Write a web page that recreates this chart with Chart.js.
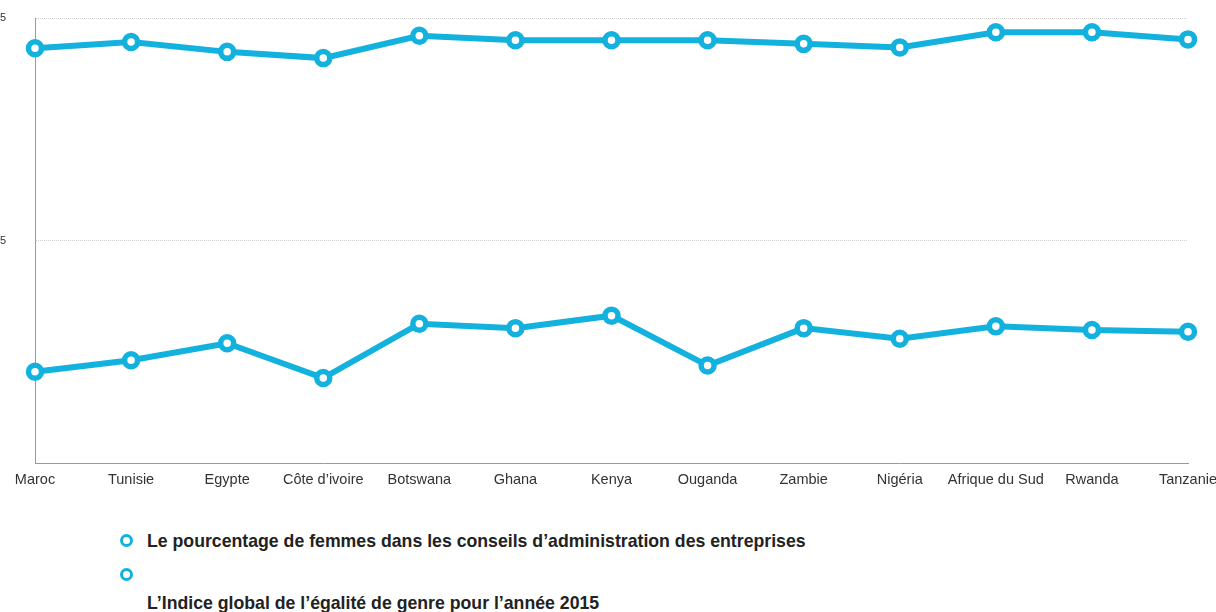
<!DOCTYPE html>
<html lang="fr">
<head>
<meta charset="utf-8">
<script src="https://cdn.jsdelivr.net/npm/chart.js@4/dist/chart.umd.min.js"></script>
<style>
  html, body { margin: 0; padding: 0; background: #fff; overflow: hidden; }
  body { width: 1216px; height: 612px; position: relative; font-family: "Liberation Sans", Arial, sans-serif; }
  #wrap { position: absolute; left: -11px; top: 0; width: 1260px; height: 489px; }
  .leg { position: absolute; left: 147px; font-weight: bold; font-size: 17.7px; color: #222; white-space: nowrap; }
  .dot { position: absolute; width: 7px; height: 7px; border: 3.5px solid #13b1dd; border-radius: 50%; background: #fff; }
</style>
</head>
<body>
<div id="wrap"><canvas id="chart"></canvas></div>

<span class="dot" style="left:120px; top:534px;"></span>
<div class="leg" style="top:531px;">Le pourcentage de femmes dans les conseils d’administration des entreprises</div>
<span class="dot" style="left:120px; top:568px;"></span>
<div class="leg" style="top:593px;">L’Indice global de l’égalité de genre pour l’année 2015</div>

<script>
// Données
const pays = ['Maroc', 'Tunisie', 'Egypte', 'Côte d’ivoire', 'Botswana', 'Ghana', 'Kenya',
              'Ouganda', 'Zambie', 'Nigéria', 'Afrique du Sud', 'Rwanda', 'Tanzanie'];
const indiceGenre = [0.716, 0.723, 0.712, 0.705, 0.730, 0.725, 0.725, 0.725, 0.721, 0.717, 0.734, 0.734, 0.726];
const femmesConseils = [0.353, 0.366, 0.385, 0.346, 0.407, 0.402, 0.416, 0.360, 0.402, 0.390, 0.404, 0.400, 0.398];
const yTicks = [0.25, 0.5, 0.75];

const bleu = '#13b1dd';

function serie(label, data) {
    return {
        label: label,
        data: data,
        borderColor: bleu,
        backgroundColor: '#ffffff',
        borderWidth: 6,
        pointRadius: 6.5,
        pointHoverRadius: 6.5,
        pointBorderWidth: 5.5,
        pointBorderColor: bleu,
        pointBackgroundColor: '#ffffff',
        tension: 0
    };
}

const ctx = document.getElementById('chart').getContext('2d');
const chart = new Chart(ctx, {
    type: 'line',
    data: {
        labels: pays,
        datasets: [
            serie('L’Indice global de l’égalité de genre pour l’année 2015', indiceGenre),
            serie('Le pourcentage de femmes dans les conseils d’administration des entreprises', femmesConseils)
        ]
    },
    options: {
        responsive: true,
        maintainAspectRatio: false,
        animation: false,
        layout: { padding: { left: 0, right: 61, top: 18, bottom: 0 } },
        plugins: { legend: { display: false }, tooltip: { enabled: false } },
        scales: {
            x: {
                offset: false,
                grid: { display: false },
                border: { color: '#9a9a9a', width: 1 },
                ticks: {
                    color: '#333',
                    font: { family: '"Liberation Sans", Arial, sans-serif', size: 14.5 },
                    padding: 0,
                    maxRotation: 0,
                    autoSkip: false
                }
            },
            y: {
                min: 0.25,
                max: 0.75,
                afterBuildTicks: function(axis) {
                    axis.ticks = yTicks.map(v => ({ value: v }));
                },
                afterFit: function(axis) { axis.width = 46; },
                grid: {
                    color: function(c) { return c.tick && c.tick.value === 0.25 ? 'rgba(0,0,0,0)' : '#cfcfcf'; },
                    lineWidth: 1,
                    drawTicks: true,
                    tickLength: 26,
                    tickColor: 'rgba(0,0,0,0)'
                },
                border: { color: '#9a9a9a', width: 1, dash: [1, 1] },
                ticks: {
                    color: '#333',
                    font: { family: '"Liberation Sans", Arial, sans-serif', size: 11 },
                    padding: 3,
                    callback: function(v) { return v === 0.25 ? '' : String(v); }
                }
            }
        }
    }
});
</script>
</body>
</html>
